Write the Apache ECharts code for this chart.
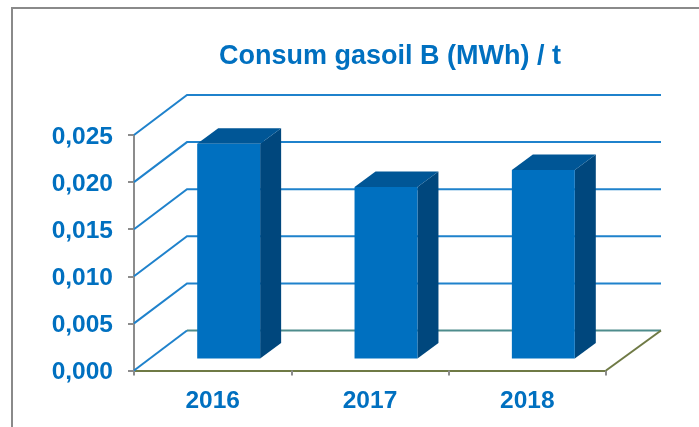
<!DOCTYPE html>
<html><head><meta charset="utf-8">
<style>html,body{margin:0;padding:0;background:#fff}#c{width:699px;height:427px}</style>
<script src="https://cdn.jsdelivr.net/npm/echarts@6/dist/echarts.min.js"></script>
</head><body><div id="c"></div>
<script>
const titleText = 'Consum gasoil B (MWh) / t';
const categories = ['2016', '2017', '2018'];
const values = [0.0228, 0.0182, 0.0200];
const yTicks = [0, 0.005, 0.01, 0.015, 0.02, 0.025];

const BLUE = '#0070C0', TOP = '#005696', SIDE = '#00477D', GRID = '#1F82CC', OLIVE = '#6F7A45', GRAY = '#8C8C8C';
const WALL_DX = 53, WALL_DY = -40, END_DX = 55;
const BAR_RATIO = 0.4, FRONT_DX = 16, FRONT_DY = -12, DEPTH_DX = 21, DEPTH_DY = -15.5;

const chart = echarts.init(document.getElementById('c'), null, {renderer: 'canvas'});
function wall(params, api) {
  const cs = params.coordSys, v = api.value(0);
  const y = api.coord([0, v])[1], x0 = cs.x, x1 = cs.x + cs.width;
  const ln = (pts, color) => ({type: 'polyline', shape: {points: pts}, style: {fill: null, stroke: color, lineWidth: 2}});
  const kids = [ln([[x0, y], [x0 + WALL_DX, y + WALL_DY], [x1 + END_DX, y + WALL_DY]], GRID)];
  if (v === 0) {
    kids[0] = ln([[x0, y], [x0 + WALL_DX, y + WALL_DY]], GRID);
    kids.push(ln([[x0 + WALL_DX, y + WALL_DY], [x1 + END_DX, y + WALL_DY]], '#4E8C8C'));
    kids.push(ln([[x1, y], [x1 + END_DX, y + WALL_DY]], OLIVE));
  }
  return {type: 'group', children: kids};
}
function bar(params, api) {
  const c = api.value(0), v = api.value(1);
  const base = api.coord([c, 0]), top = api.coord([c, v]);
  const w = api.size([1, 0])[0] * BAR_RATIO;
  const l = base[0] + FRONT_DX - w / 2, r = l + w;
  const b = base[1] + FRONT_DY, t = top[1] + FRONT_DY;
  const dx = DEPTH_DX, dy = DEPTH_DY;
  return {type: 'group', children: [
    {type: 'polygon', shape: {points: [[r, t], [r + dx, t + dy], [r + dx, b + dy], [r, b]]}, style: {fill: SIDE}},
    {type: 'polygon', shape: {points: [[l, t], [l + dx, t + dy], [r + dx, t + dy], [r, t]]}, style: {fill: TOP}},
    {type: 'rect', shape: {x: l, y: t, width: w, height: b - t}, style: {fill: BLUE}}
  ]};
}
chart.setOption({
  animation: false,
  backgroundColor: '#fff',
  title: {text: titleText, left: 385, top: 38, textAlign: 'center',
    textStyle: {color: BLUE, fontFamily: 'Liberation Sans', fontWeight: 'bold', fontSize: 27}},
  grid: {left: 134, top: 135, width: 472, height: 235.5, containLabel: false},
  xAxis: {type: 'category', data: categories,
    axisLine: {lineStyle: {color: OLIVE, width: 2}},
    axisTick: {show: true, length: 5, lineStyle: {color: GRAY, width: 2}},
    axisLabel: {color: BLUE, fontFamily: 'Liberation Sans', fontWeight: 'bold', fontSize: 24.5, margin: 18},
    splitLine: {show: false}},
  yAxis: {type: 'value', min: 0, max: 0.025, interval: 0.005,
    axisLine: {show: true, lineStyle: {color: GRAY, width: 2}},
    axisTick: {show: true, length: 6, lineStyle: {color: GRAY, width: 2}},
    axisLabel: {color: BLUE, fontFamily: 'Liberation Sans', fontWeight: 'bold', fontSize: 24.5, margin: 21,
      verticalAlign: 'top', lineHeight: 4,
      formatter: v => v.toFixed(3).replace('.', ',')},
    splitLine: {show: false}},
  graphic: [
    {type: 'polyline', silent: true, z: 0, shape: {points: [[12, 427], [12, 8], [699, 8]]},
     style: {fill: null, stroke: '#8A8A8A', lineWidth: 2}}
  ],
  series: [
    {type: 'custom', coordinateSystem: 'cartesian2d', clip: false, z: 1, renderItem: wall,
     data: yTicks.map(v => [v]), encode: {y: 0}},
    {type: 'custom', coordinateSystem: 'cartesian2d', clip: false, z: 3, renderItem: bar,
     data: values.map((v, i) => [i, v]), encode: {x: 0, y: 1}}
  ]
});
</script></body></html>
